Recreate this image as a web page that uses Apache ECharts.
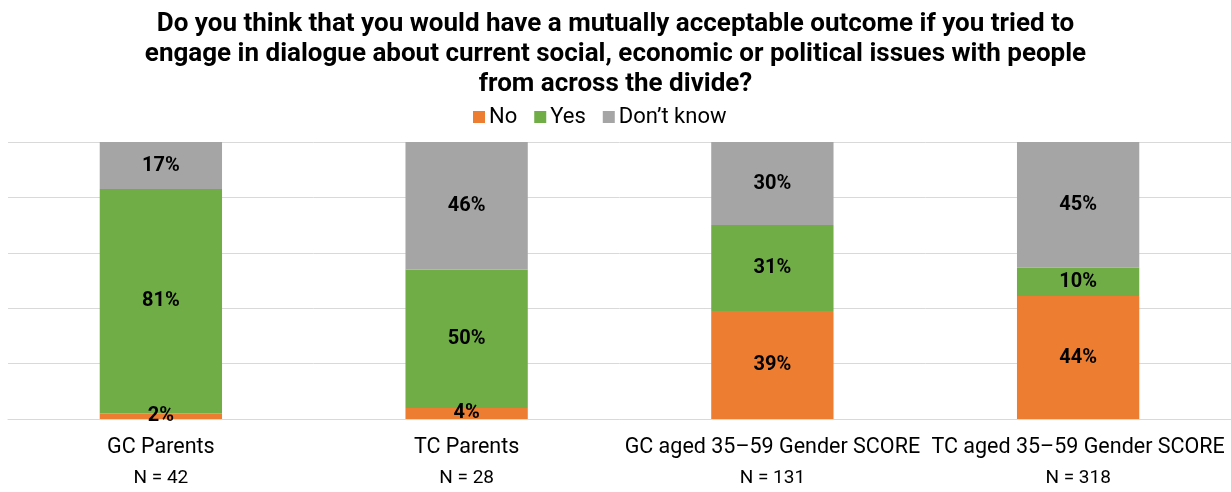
<!DOCTYPE html>
<html><head><meta charset="utf-8">
<script src="https://cdn.jsdelivr.net/npm/echarts@6/dist/echarts.min.js"></script>
<style>html,body{margin:0;padding:0;background:#fff}#c{width:1231px;height:492px}</style>
</head><body><div id="c"></div>
<script>
const categories = ['GC Parents', 'TC Parents', 'GC aged 35\u201359 Gender SCORE', 'TC aged 35\u201359 Gender SCORE'];
const sampleSizes = ['N = 42', 'N = 28', 'N = 131', 'N = 318'];
const noValues = [2, 4, 39, 44.4];
const yesValues = [81, 50, 31, 10.2];
const dkValues = [17, 46, 30, 45.4];
const seriesNames = ['No', 'Yes', 'Don\u2019t know'];
const colors = ['#ED7D31', '#70AD47', '#A5A5A5'];
const titleText = 'Do you think that you would have a mutually acceptable outcome if you tried to\nengage in dialogue about current social, economic or political issues with people\nfrom across the divide?';

const chart = echarts.init(document.getElementById('c'), null, {renderer: 'canvas'});
const lbl = {show: true, position: 'inside', color: '#000', fontFamily: 'Roboto', fontWeight: 'bold', fontSize: 20,
  formatter: p => Math.round(p.value) + '%'};
const mk = (name, data, i) => ({name, type: 'bar', stack: 'a', data, barWidth: '40%',
  itemStyle: {color: colors[i]}, label: lbl, emphasis: {disabled: true}});
chart.setOption({
  animation: false,
  textStyle: {fontFamily: 'Roboto'},
  title: {text: titleText, left: 'center', top: 4,
    textStyle: {fontFamily: 'Roboto', fontWeight: 'bold', fontSize: 26, lineHeight: 30, color: '#000'}},
  legend: {data: seriesNames, left: 468, top: 101, itemWidth: 12, itemHeight: 12, itemGap: 17,
    icon: 'rect', textStyle: {fontFamily: 'Roboto', fontSize: 22, color: '#000', padding: [0, 0, 0, -1]}},
  grid: {left: 8, right: 0, top: 142, bottom: 73, containLabel: false},
  xAxis: {type: 'category', data: categories,
    axisLine: {lineStyle: {color: '#d9d9d9', width: 1}}, axisTick: {show: false},
    axisLabel: {color: '#000', fontFamily: 'Roboto', interval: 0, margin: 14,
      formatter: (v, i) => '{a|' + v + '}\n{b|' + sampleSizes[i] + '}',
      rich: {a: {fontFamily: 'Roboto', fontSize: 21.5, lineHeight: 30, color: '#000'},
             b: {fontFamily: 'Roboto', fontSize: 19, lineHeight: 30, color: '#000'}}}},
  yAxis: {type: 'value', min: 0, max: 100, interval: 20, axisLabel: {show: false},
    axisLine: {show: false}, axisTick: {show: false},
    splitLine: {lineStyle: {color: '#d9d9d9', width: 1}}},
  series: [mk(seriesNames[0], noValues, 0), mk(seriesNames[1], yesValues, 1), mk(seriesNames[2], dkValues, 2)]
});
</script></body></html>
